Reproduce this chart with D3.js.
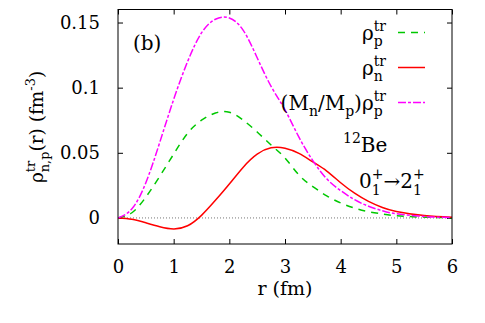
<!DOCTYPE html>
<html>
<head>
<meta charset="utf-8">
<script src="https://cdn.jsdelivr.net/npm/d3@7"></script>
<style>
  body { margin: 0; background: #fff; }
  svg text { font-family: "DejaVu Serif", serif !important; fill: #000; }
</style>
</head>
<body>
<div id="chart"></div>
<script>
var svgWidth = 485;
var svgHeight = 323;

var margin = { top: 9.5, right: 33, bottom: 79, left: 118 };
var width = svgWidth - margin.left - margin.right;
var height = svgHeight - margin.top - margin.bottom;

var serif = "DejaVu Serif, serif";

// data
var rVals = [0, 0.25, 0.5, 0.75, 1, 1.25, 1.5, 1.75, 2, 2.25, 2.5, 2.75, 3, 3.25, 3.5, 3.75, 4, 4.25, 4.5, 4.75, 5, 5.5, 6];
var rhoP = [0, 0.004, 0.016, 0.032, 0.049, 0.065, 0.075, 0.0805, 0.0812, 0.075, 0.066, 0.056, 0.046, 0.033, 0.024, 0.017, 0.0115, 0.0075, 0.0048, 0.003, 0.0017, 0.0006, 0.0002];
var rhoN = [0, -0.001, -0.0037, -0.0067, -0.0084, -0.006, 0.002, 0.0135, 0.026, 0.039, 0.049, 0.0538, 0.0535, 0.0495, 0.043, 0.036, 0.027, 0.019, 0.0127, 0.008, 0.005, 0.0018, 0.0005];
var rhoPScaled = [0, 0.007, 0.027, 0.058, 0.091, 0.120, 0.142, 0.1525, 0.1535, 0.144, 0.123, 0.101, 0.083, 0.062, 0.044, 0.030, 0.021, 0.014, 0.009, 0.0055, 0.0032, 0.0011, 0.0003];

var xTicks = [0, 1, 2, 3, 4, 5, 6];
var yTicks = [0, 0.05, 0.1, 0.15];
var yTickLabels = ["0", "0.05", "0.1", "0.15"];

var svg = d3.select("#chart")
    .append("svg")
    .attr("width", svgWidth)
    .attr("height", svgHeight)
    .attr("font-family", serif);

var chartGroup = svg.append("g")
    .attr("transform", `translate(${margin.left}, ${margin.top})`);

var x = d3.scaleLinear().domain([0, 6]).range([0, width]);
var y = d3.scaleLinear().domain([-0.02, 0.16]).range([height, 0]);

// axes, gnuplot style ticks pointing inward
var fs = "18px";
chartGroup.append("g")
    .attr("transform", `translate(0, ${height})`)
    .call(d3.axisBottom(x).tickValues(xTicks).tickFormat(d3.format("d")).tickSizeInner(-5).tickSizeOuter(0).tickPadding(16))
    .call(g => g.select(".domain").remove())
    .attr("font-family", serif)
    .selectAll("text").style("font-size", fs);
chartGroup.append("g")
    .call(d3.axisTop(x).tickValues(xTicks).tickFormat("").tickSizeInner(-5).tickSizeOuter(0))
    .call(g => g.select(".domain").remove());
chartGroup.append("g")
    .call(d3.axisLeft(y).tickValues(yTicks).tickFormat((d, i) => yTickLabels[i]).tickSizeInner(-5).tickSizeOuter(0).tickPadding(18))
    .call(g => g.select(".domain").remove())
    .attr("font-family", serif)
    .selectAll("text").style("font-size", fs);
chartGroup.append("g")
    .attr("transform", `translate(${width}, 0)`)
    .call(d3.axisRight(y).tickValues(yTicks).tickFormat("").tickSizeInner(-5).tickSizeOuter(0))
    .call(g => g.select(".domain").remove());
chartGroup.selectAll(".tick line").attr("stroke", "#000");

// zero line
chartGroup.append("line")
    .attr("x1", 0).attr("x2", width)
    .attr("y1", y(0)).attr("y2", y(0))
    .attr("stroke", "#777").attr("stroke-width", 1)
    .attr("stroke-dasharray", "1,2");

chartGroup.append("clipPath").attr("id", "clip")
    .append("rect").attr("width", width).attr("height", height);

var series = [
    { vals: rhoP, color: "#00c800", dash: "7,6" },
    { vals: rhoN, color: "#ff0000", dash: null },
    { vals: rhoPScaled, color: "#ff00ff", dash: "8,2,3,2" }
];

var line = d3.line()
    .x(d => x(d[0]))
    .y(d => y(d[1]))
    .curve(d3.curveNatural);

series.forEach(function(s) {
    chartGroup.append("path")
        .datum(rVals.map((r, i) => [r, s.vals[i]]))
        .attr("clip-path", "url(#clip)")
        .attr("fill", "none")
        .attr("stroke", s.color)
        .attr("stroke-width", 1.5)
        .attr("stroke-dasharray", s.dash)
        .attr("d", line);
});

// frame
chartGroup.append("rect")
    .attr("width", width).attr("height", height)
    .attr("fill", "none").attr("stroke", "#000").attr("stroke-width", 1);

// rich text helper: parts are plain strings or {sup, sub}
function rich(g, px, py, parts, anchor, size) {
    var grp = g.append("g");
    var cx = 0;
    var small = size * 0.7;
    parts.forEach(function(p) {
        if (typeof p === "string") {
            var t = grp.append("text").attr("x", cx).attr("y", 0).style("font-size", size + "px").text(p);
            cx += t.node().getComputedTextLength();
        } else {
            var w = 0;
            if (p.sup) {
                var t1 = grp.append("text").attr("x", cx).attr("y", -size * 0.45).style("font-size", small + "px").text(p.sup);
                w = Math.max(w, t1.node().getComputedTextLength());
            }
            if (p.sub) {
                var t2 = grp.append("text").attr("x", cx).attr("y", size * 0.33).style("font-size", small + "px").text(p.sub);
                w = Math.max(w, t2.node().getComputedTextLength());
            }
            cx += w;
        }
    });
    var off = anchor === "end" ? -cx : (anchor === "middle" ? -cx / 2 : 0);
    grp.attr("transform", `translate(${px + off}, ${py})`);
    return grp;
}

// axis labels
svg.append("text")
    .attr("x", margin.left + width / 2)
    .attr("y", 295)
    .attr("text-anchor", "middle")
    .style("font-size", "19px")
    .text("r (fm)");

var yLab = svg.append("g").attr("transform", "translate(43, 127) rotate(-90)");
rich(yLab, 0, 0, ["ρ", { sup: "tr", sub: "n,p" }, "(r) (fm", { sup: "-3" }, ")"], "middle", 18.5);

// panel label
svg.append("text").attr("x", 133).attr("y", 50).style("font-size", "20px").text("(b)");

// legend
var legendNames = [
    ["ρ", { sup: "tr", sub: "p" }],
    ["ρ", { sup: "tr", sub: "n" }],
    ["(M", { sub: "n" }, "/M", { sub: "p" }, ")ρ", { sup: "tr", sub: "p" }]
];
legendNames.forEach(function(parts, i) {
    var ly = 32.5 + i * 35;
    rich(svg, 386, ly + 7, parts, "end", 20);
    svg.append("line")
        .attr("x1", 398).attr("x2", 425)
        .attr("y1", ly).attr("y2", ly)
        .attr("stroke", series[i].color)
        .attr("stroke-width", 1.5)
        .attr("stroke-dasharray", series[i].dash);
});

rich(svg, 343, 152, [{ sup: "12" }, "Be"], "start", 20);
rich(svg, 359, 188, ["0", { sup: "+", sub: "1" }, "→2", { sup: "+", sub: "1" }], "start", 20);
</script>
</body>
</html>
